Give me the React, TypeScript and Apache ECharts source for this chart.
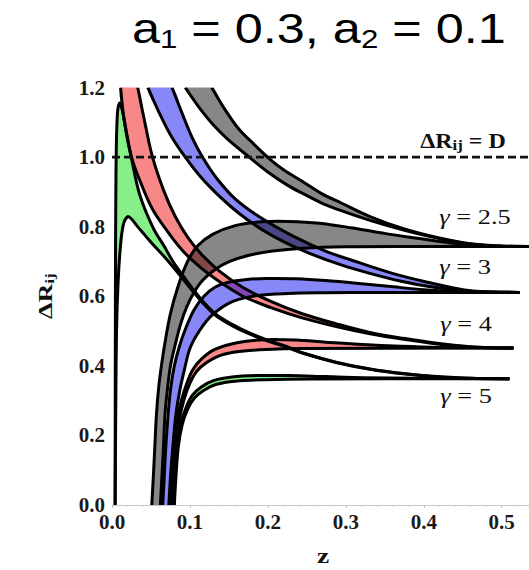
import React, { useEffect, useRef } from "react";
import * as echarts from "echarts";

// Axis ranges and tick spacing
const zMin = 0;
const zMax = 0.535;
const zStep = 0.1;
const rMin = 0;
const rMax = 1.2;
const rStep = 0.2;

// Reference level ΔR_ij = D
const dLevel = 1.0;

// γ = 2.5 : upper (falling) branch band edges, [z, ΔR]
const g25UpperHi = [[0.128,1.2],[0.144,1.14],[0.163,1.08],[0.183,1.035],[0.202,0.995],[0.221,0.962],[0.245,0.929],[0.269,0.895],[0.294,0.868],[0.331,0.829],[0.374,0.794],[0.417,0.769],[0.46,0.751],[0.496,0.745],[0.535,0.743]];
const g25UpperLo = [[0.094,1.2],[0.11,1.148],[0.129,1.095],[0.149,1.05],[0.176,1.0],[0.203,0.952],[0.226,0.918],[0.245,0.895],[0.269,0.868],[0.294,0.846],[0.331,0.818],[0.374,0.79],[0.417,0.767],[0.46,0.75],[0.496,0.744],[0.535,0.743]];
// γ = 2.5 : lower (rising) branch band edges
const g25LowerHi = [[0.051,0],[0.053,0.08],[0.055,0.17],[0.057,0.26],[0.06,0.34],[0.064,0.41],[0.069,0.48],[0.075,0.55],[0.085,0.63],[0.097,0.7],[0.11,0.745],[0.129,0.778],[0.158,0.803],[0.192,0.814],[0.226,0.815],[0.266,0.81],[0.309,0.796],[0.351,0.78],[0.394,0.766],[0.432,0.754],[0.467,0.746],[0.506,0.743],[0.535,0.743]];
const g25LowerLo = [[0.062,0],[0.064,0.08],[0.066,0.166],[0.068,0.26],[0.071,0.33],[0.075,0.4],[0.081,0.46],[0.088,0.52],[0.096,0.57],[0.105,0.61],[0.116,0.645],[0.131,0.675],[0.151,0.7],[0.176,0.718],[0.206,0.73],[0.246,0.738],[0.3,0.742],[0.38,0.743],[0.535,0.743]];

// γ = 3
const g3UpperHi = [[0.077,1.2],[0.091,1.12],[0.103,1.055],[0.116,1.0],[0.134,0.94],[0.158,0.88],[0.19,0.827],[0.233,0.772],[0.274,0.73],[0.319,0.695],[0.361,0.665],[0.405,0.64],[0.438,0.624],[0.463,0.615],[0.487,0.612],[0.523,0.611]];
const g3UpperLo = [[0.046,1.2],[0.06,1.13],[0.076,1.06],[0.094,1.0],[0.115,0.94],[0.139,0.885],[0.162,0.84],[0.19,0.795],[0.222,0.755],[0.255,0.722],[0.294,0.69],[0.332,0.665],[0.371,0.643],[0.409,0.627],[0.448,0.616],[0.487,0.612],[0.523,0.611]];
const g3LowerHi = [[0.065,0],[0.067,0.08],[0.069,0.166],[0.072,0.26],[0.075,0.33],[0.08,0.4],[0.087,0.46],[0.095,0.51],[0.105,0.56],[0.118,0.6],[0.132,0.626],[0.149,0.64],[0.173,0.648],[0.197,0.651],[0.236,0.65],[0.274,0.645],[0.32,0.636],[0.361,0.627],[0.4,0.619],[0.438,0.614],[0.477,0.612],[0.523,0.611]];
const g3LowerLo = [[0.073,0],[0.075,0.08],[0.078,0.166],[0.082,0.26],[0.087,0.33],[0.093,0.39],[0.1,0.45],[0.112,0.5],[0.128,0.545],[0.155,0.585],[0.187,0.602],[0.226,0.608],[0.274,0.61],[0.342,0.611],[0.523,0.611]];

// γ = 4
const g4UpperHi = [[0.033,1.2],[0.043,1.09],[0.052,1.0],[0.067,0.9],[0.081,0.83],[0.097,0.77],[0.115,0.72],[0.139,0.67],[0.168,0.625],[0.203,0.586],[0.245,0.549],[0.289,0.52],[0.331,0.496],[0.374,0.479],[0.417,0.465],[0.46,0.455],[0.487,0.452],[0.515,0.451]];
const g4UpperLo = [[0.011,1.2],[0.016,1.1],[0.025,1.0],[0.038,0.92],[0.052,0.85],[0.07,0.79],[0.091,0.73],[0.115,0.68],[0.139,0.64],[0.168,0.6],[0.203,0.568],[0.245,0.537],[0.289,0.512],[0.331,0.492],[0.374,0.476],[0.417,0.463],[0.46,0.454],[0.487,0.452],[0.515,0.451]];
const g4LowerHi = [[0.075,0],[0.077,0.08],[0.079,0.166],[0.083,0.24],[0.089,0.3],[0.096,0.35],[0.104,0.39],[0.115,0.42],[0.132,0.447],[0.162,0.467],[0.197,0.475],[0.236,0.474],[0.274,0.468],[0.322,0.461],[0.371,0.456],[0.419,0.453],[0.515,0.451]];
const g4LowerLo = [[0.077,0],[0.079,0.08],[0.082,0.166],[0.086,0.24],[0.092,0.3],[0.1,0.35],[0.109,0.385],[0.122,0.41],[0.139,0.43],[0.163,0.441],[0.197,0.447],[0.245,0.45],[0.515,0.451]];

// γ = 5
const g5UpperHi = [[0.004,0],[0.0044,0.6],[0.0051,0.95],[0.0068,1.12],[0.0097,1.155],[0.0126,1.14],[0.0174,1.085],[0.0251,0.995],[0.0358,0.89],[0.0531,0.795],[0.0666,0.745],[0.0782,0.7],[0.0908,0.66],[0.1024,0.625],[0.1168,0.585],[0.1323,0.55],[0.1535,0.52],[0.1748,0.496],[0.197,0.476],[0.2221,0.457],[0.2452,0.437],[0.2887,0.41],[0.3311,0.391],[0.3736,0.378],[0.4171,0.369],[0.4595,0.364],[0.5097,0.363]];
const g5UpperLo = [[0.004,0],[0.0049,0.3],[0.0058,0.5],[0.0078,0.64],[0.0107,0.74],[0.0145,0.805],[0.0203,0.829],[0.0251,0.822],[0.0329,0.8],[0.0425,0.775],[0.0541,0.745],[0.0666,0.715],[0.0782,0.685],[0.0908,0.65],[0.1024,0.618],[0.1168,0.58],[0.1323,0.546],[0.1535,0.516],[0.1748,0.493],[0.197,0.473],[0.2221,0.455],[0.2452,0.436],[0.2887,0.409],[0.3311,0.39],[0.3736,0.377],[0.4171,0.368],[0.4595,0.364],[0.5097,0.363]];
const g5LowerHi = [[0.078,0],[0.08,0.08],[0.083,0.166],[0.088,0.23],[0.095,0.28],[0.103,0.315],[0.115,0.34],[0.131,0.358],[0.154,0.368],[0.187,0.372],[0.226,0.372],[0.274,0.369],[0.322,0.366],[0.39,0.364],[0.51,0.363]];
const g5LowerLo = [[0.08,0],[0.082,0.08],[0.085,0.166],[0.09,0.23],[0.097,0.275],[0.106,0.308],[0.118,0.33],[0.134,0.347],[0.158,0.356],[0.197,0.36],[0.255,0.362],[0.51,0.363]];

const gammaLabels = ["2.5", "3", "4", "5"];

// Translucent fills, so crossing bands blend
const GRAY = "rgba(0,0,0,0.47)";
const BLUE = "rgba(0,0,240,0.47)";
const RED = "rgba(240,0,0,0.47)";
const GREEN = "rgba(0,220,0,0.47)";

type Pt = number[];
interface Band { hi: Pt[]; lo: Pt[]; fill: string }

const bands: Band[] = [
  { hi: g5UpperHi, lo: g5UpperLo, fill: GREEN },
  { hi: g5LowerHi, lo: g5LowerLo, fill: GREEN },
  { hi: g4UpperHi, lo: g4UpperLo, fill: RED },
  { hi: g4LowerHi, lo: g4LowerLo, fill: RED },
  { hi: g3UpperHi, lo: g3UpperLo, fill: BLUE },
  { hi: g3LowerHi, lo: g3LowerLo, fill: BLUE },
  { hi: g25UpperHi, lo: g25UpperLo, fill: GRAY },
  { hi: g25LowerHi, lo: g25LowerLo, fill: GRAY },
];

const edges: Pt[][] = bands.flatMap((b) => [b.hi, b.lo]);

const SMOOTH = 0.35;
const SERIF = "'Liberation Serif', 'Times New Roman', serif";
const SANS = "'Liberation Sans', Arial, sans-serif";

function gammaText(x: number, y: number, value: string) {
  return {
    type: "text",
    x,
    y,
    scaleX: 1.2,
    z: 10,
    style: {
      text: `{g|γ}{t| = ${value}}`,
      align: "center",
      verticalAlign: "middle",
      rich: {
        g: { fontFamily: SERIF, fontSize: 22, fontStyle: "italic", fill: "#111" },
        t: { fontFamily: SERIF, fontSize: 22, fill: "#111" },
      },
    },
  };
}

export default function App() {
  const ref = useRef<HTMLDivElement>(null);

  useEffect(() => {
    if (!ref.current) return;
    const chart = echarts.init(ref.current, undefined, { renderer: "svg" });

    const option: any = {
      animation: false,
      backgroundColor: "#ffffff",
      grid: { left: 112, right: 0, top: 87.5, bottom: 65, outerBoundsMode: "none" },
      xAxis: {
        type: "value",
        min: zMin,
        max: zMax,
        interval: zStep,
        axisLine: { show: true, lineStyle: { color: "#c9c9c9", width: 1 } },
        axisTick: { show: true, length: 3, lineStyle: { color: "#bdbdbd" } },
        minorTick: { show: true, splitNumber: 5, length: 2, lineStyle: { color: "#cfcfcf" } },
        splitLine: { show: false },
        axisLabel: {
          showMaxLabel: false,
          margin: 6,
          fontFamily: SERIF,
          fontSize: 21,
          fontWeight: "bold",
          color: "#1a1a1a",
          formatter: (v: number) => v.toFixed(1),
        },
      },
      yAxis: {
        type: "value",
        min: rMin,
        max: rMax,
        interval: rStep,
        axisLine: { show: false },
        axisTick: { show: false },
        splitLine: { show: false },
        axisLabel: {
          margin: 7,
          fontFamily: SERIF,
          fontSize: 21,
          fontWeight: "bold",
          color: "#1a1a1a",
          formatter: (v: number) => v.toFixed(1),
        },
      },
      series: [
        {
          type: "custom",
          name: "bands",
          silent: true,
          clip: true,
          z: 1,
          data: bands.map((b, i) => [b.hi[0][0], b.hi[0][1], i]),
          renderItem: (params: any, api: any) => {
            const b = bands[params.dataIndex];
            const pts = b.hi
              .map((p) => api.coord(p))
              .concat(b.lo.slice().reverse().map((p) => api.coord(p)));
            return {
              type: "polygon",
              shape: { points: pts, smooth: SMOOTH },
              style: { fill: b.fill, stroke: "none" },
            };
          },
        },
        {
          type: "custom",
          name: "edges",
          silent: true,
          clip: true,
          z: 2,
          data: edges.map((c, i) => [c[0][0], c[0][1], i]),
          renderItem: (params: any, api: any) => {
            const c = edges[params.dataIndex];
            return {
              type: "polyline",
              shape: { points: c.map((p) => api.coord(p)), smooth: SMOOTH },
              style: { fill: "none", stroke: "#000", lineWidth: 3, lineJoin: "round" },
            };
          },
        },
        {
          type: "line",
          name: "D",
          silent: true,
          z: 3,
          showSymbol: false,
          data: [[zMin, dLevel], [zMax, dLevel]],
          lineStyle: { color: "#111", width: 2.6, type: [8, 4] },
        },
      ],
      graphic: [
        {
          type: "text",
          x: 132,
          y: 29,
          scaleX: 1.2,
          style: {
            text: "{a|a}{s|1}{a| = 0.3, a}{s|2}{a| = 0.1}",
            align: "left",
            verticalAlign: "middle",
            rich: {
              a: { fontFamily: SANS, fontSize: 42, lineHeight: 46, fill: "#000" },
              s: { fontFamily: SANS, fontSize: 26, lineHeight: 30, verticalAlign: "bottom", fill: "#000" },
            },
          },
        },
        {
          type: "text",
          x: 46,
          y: 296,
          rotation: Math.PI / 2,
          scaleX: 1.45,
          style: {
            text: "{b|ΔR}{s|ij}",
            align: "center",
            verticalAlign: "middle",
            rich: {
              b: { fontFamily: SERIF, fontSize: 18, fontWeight: "bold", lineHeight: 20, fill: "#111" },
              s: { fontFamily: SERIF, fontSize: 12, fontWeight: "bold", lineHeight: 9, verticalAlign: "bottom", fill: "#111" },
            },
          },
        },
        {
          type: "text",
          x: 323,
          y: 555,
          scaleX: 1.25,
          style: {
            text: "z",
            align: "center",
            verticalAlign: "middle",
            fontFamily: SERIF,
            fontSize: 22,
            fontWeight: "bold",
            fill: "#111",
          },
        },
        {
          type: "text",
          x: 463,
          y: 141,
          scaleX: 1.2,
          z: 10,
          style: {
            text: "{b|ΔR}{s|ij}{b| = D}",
            align: "center",
            verticalAlign: "middle",
            rich: {
              b: { fontFamily: SERIF, fontSize: 20, fontWeight: "bold", lineHeight: 22, fill: "#111" },
              s: { fontFamily: SERIF, fontSize: 14, fontWeight: "bold", lineHeight: 10, verticalAlign: "bottom", fill: "#111" },
            },
          },
        },
        gammaText(475, 216, gammaLabels[0]),
        gammaText(465, 266, gammaLabels[1]),
        gammaText(466, 323, gammaLabels[2]),
        gammaText(466, 395, gammaLabels[3]),
      ],
    };

    chart.setOption(option);
    return () => chart.dispose();
  }, []);

  return (
    <div
      ref={ref}
      style={{ position: "absolute", left: 0, top: 0, width: 529, height: 570, background: "#fff" }}
    />
  );
}
